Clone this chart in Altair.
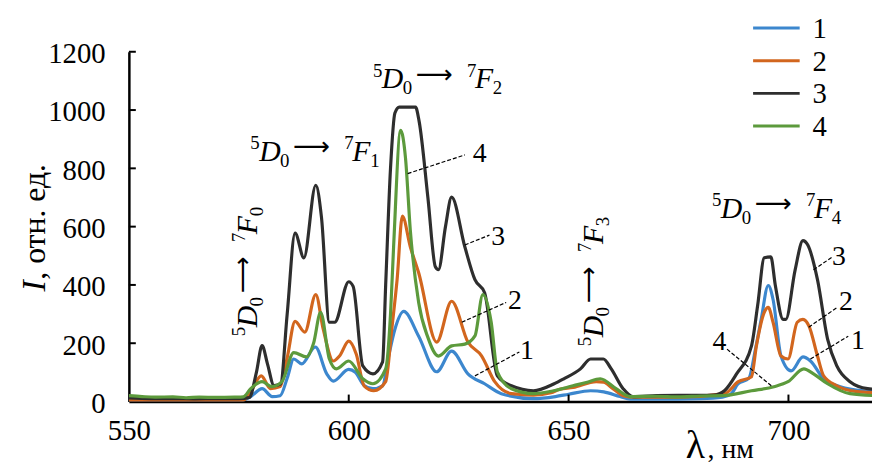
import altair as alt
import pandas as pd

# ---- data ----
wl1 = [550, 560, 570, 576, 577.7, 580.3, 582.6, 584.4, 586, 587.5, 589.3, 592.4, 595, 596.5, 600, 601.5,
       603.5, 605.5, 607.7, 609, 610.5, 612.5, 615.9, 620, 623.4, 627.1, 630.9, 634.7, 642, 647, 650, 655,
       658, 661.7, 664, 670, 680, 685, 687, 688.5, 691, 692.5, 693.8, 695.4, 696.5, 698.3, 700.6, 703.3,
       705, 708, 711.8, 717, 720]
i1 = [5, 5, 5, 5, 17, 44, 17, 20, 80, 146, 129, 187, 95, 70, 110, 100,
      55, 44, 54, 150, 248, 309, 224, 102, 173, 95, 61, 27, 10, 17, 25, 37,
      33, 17, 8, 8, 10, 15, 27, 60, 80, 180, 282, 398, 350, 156, 105, 153,
      139, 78, 51, 37, 35]

wl2 = [550, 560, 570, 576, 577.7, 580.1, 582.2, 584.4, 586, 587.8, 590, 592.5, 594.2, 596.5, 597.9, 600,
       601.7, 603.5, 605.7, 608.4, 609.8, 611, 612.2, 614, 615.9, 620, 623.4, 627.1, 630.2, 633.2, 637,
       642, 646, 648, 651, 656.3, 658, 660, 662.4, 665, 675, 685.5, 688.6, 691.6, 692.7, 694.5, 695.4,
       696.5, 698.3, 699.9, 702, 703.3, 704.7, 706.6, 708, 711, 715.6, 720]
i2 = [3, 3, 3, 4, 34, 88, 44, 51, 150, 275, 238, 367, 248, 139, 156, 207,
      163, 54, 37, 68, 250, 418, 636, 531, 442, 204, 344, 204, 157, 68, 27,
      22, 30, 42, 48, 68, 66, 45, 20, 15, 15, 27, 68, 85, 190, 306, 323,
      272, 156, 146, 272, 282, 258, 156, 88, 54, 34, 30]

wl3 = [550, 555, 560, 565, 570, 575, 577.4, 579, 580.3, 581.5, 583, 584.5, 586, 587.8, 589.8, 592.5,
       593.8, 595.6, 596.8, 600, 601, 603.2, 605.5, 607.7, 608.4, 609.5, 610.5, 611.5, 615.2, 616, 618,
       619.7, 620.4, 622, 623.4, 626.4, 628.7, 630.9, 633.8, 637, 642, 646.6, 648.9, 652.7, 655, 657.9,
       659.7, 662.4, 664.6, 670, 675, 680, 683, 685.5, 688.2, 691.6, 693, 694.5, 696, 697, 698.8, 699.4,
       701.5, 703.3, 704.4, 706.6, 708.9, 711, 714, 718, 720]
i3 = [12, 10, 10, 9, 10, 10, 14, 100, 192, 130, 55, 60, 300, 578, 493, 742,
      632, 272, 272, 411, 395, 122, 95, 136, 400, 800, 990, 1010, 1010, 962, 700,
      462, 452, 600, 701, 531, 418, 373, 88, 54, 37, 60, 78, 112, 146, 146,
      112, 44, 17, 20, 21, 21, 22, 38, 95, 191, 330, 493, 496, 400, 282, 282,
      450, 552, 537, 418, 214, 122, 68, 44, 42]

wl4 = [550, 553, 556, 560, 563, 566, 570, 574, 576, 577.7, 580.3, 582.5, 584.8, 587.5, 590.4, 592,
       593.6, 595.6, 597.2, 600, 603.2, 605.5, 608.4, 609.5, 610.2, 611.8, 612.9, 614, 615.9, 618, 620.4,
       623.4, 626.4, 628.7, 630.5, 632.4, 633.8, 637, 642, 646.6, 651, 654, 657.2, 660.8, 664, 670, 675,
       680, 685, 691.6, 696.7, 699.9, 703.5, 705.7, 708.9, 714, 720]
i4 = [20, 17, 15, 16, 13, 15, 14, 15, 16, 44, 68, 51, 68, 168, 153, 200,
      306, 146, 112, 139, 78, 61, 112, 300, 530, 930, 837, 588, 340, 220, 156,
      191, 197, 225, 367, 272, 102, 44, 27, 37, 54, 65, 78, 44, 17, 18, 16,
      19, 20, 37, 51, 68, 112, 95, 61, 27, 20]

series_names = ["1", "2", "3", "4"]
series_colors = ["#3C87CE", "#D2661E", "#2E2E2E", "#5C9A3C"]

x_ticks = [550, 600, 650, 700]
y_ticks = [0, 200, 400, 600, 800, 1000, 1200]

# transition labels: anchor (wavelength, intensity), final sub index, rotation
tr_wl = [579.2, 577.6, 605.5, 657.9, 682.6]
tr_val = [224, 826, 1074, 190, 629]
tr_sub = ["0", "1", "2", "3", "4"]
tr_angle = [270, 0, 0, 270, 0]

# leader lines with curve numbers
ll_x1 = [613.4, 626.4, 625.7, 628.7, 705.7, 704.6, 705.0, 696.1]
ll_y1 = [782, 537, 272, 88, 452, 255, 146, 54]
ll_x2 = [626.4, 632.0, 635.8, 638.8, 710.0, 711.1, 713.6, 686.0]
ll_y2 = [846, 571, 340, 170, 496, 323, 224, 180]
ll_lab = ["4", "3", "2", "1", "3", "2", "1", "4"]
lab_x = [629.8, 634.0, 637.8, 640.5, 711.5, 713.1, 715.8, 684.3]
lab_y = [850, 564, 343, 172, 496, 340, 207, 204]

SERIF = "Liberation Serif"

rows = []
for name, wl, iv in zip(series_names, [wl1, wl2, wl3, wl4], [i1, i2, i3, i4]):
    for a, b in zip(wl, iv):
        rows.append({"s": name, "wl": a, "val": b})
df = pd.DataFrame(rows)

xscale = alt.Scale(domain=[550, 719], nice=False, zero=False)
yscale = alt.Scale(domain=[0, 1200], nice=False)

xaxis = alt.Axis(values=x_ticks, title=None, ticks=False, tickSize=0, grid=False, format="d",
                 labelFont=SERIF, labelFontSize=29, labelColor="black", labelPadding=15,
                 labelFlush=False, labelOverlap=False, domainColor="black", domainWidth=2.5)
yaxis = alt.Axis(values=y_ticks, title=None, ticks=False, tickSize=0, grid=False, format="d",
                 labelFont=SERIF, labelFontSize=29, labelColor="black", labelPadding=24,
                 labelOffset=2, labelOverlap=False, domainColor="black", domainWidth=2.5)

lines = alt.Chart(df).mark_line(strokeWidth=3.2, interpolate="monotone", clip=True).encode(
    x=alt.X("wl:Q", scale=xscale, axis=xaxis),
    y=alt.Y("val:Q", scale=yscale, axis=yaxis),
    color=alt.Color("s:N", scale=alt.Scale(domain=series_names, range=series_colors), legend=None),
)

layers = [lines]

# inward tick marks
ytk = alt.Chart(pd.DataFrame({"val": y_ticks[1:]})).mark_rule(color="black", strokeWidth=2).encode(
    y="val:Q", x=alt.value(0), x2=alt.value(7))
xtk = alt.Chart(pd.DataFrame({"wl": x_ticks[1:]})).mark_rule(color="black", strokeWidth=2).encode(
    x="wl:Q", y=alt.value(353), y2=alt.value(346))
layers += [ytk, xtk]

# leader lines
ldf = pd.DataFrame({"wl": ll_x1, "val": ll_y1, "wl2": ll_x2, "val2": ll_y2})
layers.append(alt.Chart(ldf).mark_rule(color="black", strokeWidth=1.2, strokeDash=[4, 2]).encode(
    x="wl:Q", y="val:Q", x2="wl2:Q", y2="val2:Q"))
tdf = pd.DataFrame({"wl": lab_x, "val": lab_y, "t": ll_lab})
layers.append(alt.Chart(tdf).mark_text(font=SERIF, fontSize=28, color="black", align="center",
                                       baseline="middle").encode(x="wl:Q", y="val:Q", text="t:N"))

# transition labels built from pieces
def piece(wl, val, text, size, dx, dy, angle, italic=False, font=SERIF):
    kw = dict(text=text, font=font, fontSize=size, color="black", align="left",
              baseline="alphabetic", dx=dx, dy=dy, angle=angle)
    if italic:
        kw["fontStyle"] = "italic"
    return alt.Chart(pd.DataFrame({"wl": [wl], "val": [val]})).mark_text(**kw).encode(
        x="wl:Q", y="val:Q")

for wl, val, sub, ang in zip(tr_wl, tr_val, tr_sub, tr_angle):
    layers += [
        piece(wl, val, "5", 19, 0, -12, ang),
        piece(wl, val, "D", 30, 9, 0, ang, italic=True),
        piece(wl, val, "0", 19, 30, 6, ang),
        piece(wl, val, "\u27f6", 26, 43, -6, ang, font="DejaVu Sans"),
        piece(wl, val, "7", 19, 95, -12, ang),
        piece(wl, val, "F", 30, 103, 0, ang, italic=True),
        piece(wl, val, sub, 19, 121, 6, ang),
    ]

# axis titles (pixel positions relative to plot area)
layers.append(alt.Chart(pd.DataFrame({"a": [0]})).mark_text(
    text="I", font=SERIF, fontSize=34, fontStyle="italic", color="black", align="left",
    baseline="alphabetic", angle=270).encode(x=alt.value(-85), y=alt.value(242)))
layers.append(alt.Chart(pd.DataFrame({"a": [0]})).mark_text(
    text=", отн. ед.", font=SERIF, fontSize=32, color="black", align="left",
    baseline="alphabetic", angle=270, dx=12).encode(x=alt.value(-85), y=alt.value(242)))
layers.append(alt.Chart(pd.DataFrame({"a": [0]})).mark_text(
    text="λ", font=SERIF, fontSize=40, color="black", align="left",
    baseline="alphabetic").encode(x=alt.value(562), y=alt.value(410)))
layers.append(alt.Chart(pd.DataFrame({"a": [0]})).mark_text(
    text=", нм", font=SERIF, fontSize=28, color="black", align="left",
    baseline="alphabetic").encode(x=alt.value(584), y=alt.value(410)))

# legend (manual)
for i, (name, col) in enumerate(zip(series_names, series_colors)):
    ypix = -24 + i * 33
    layers.append(alt.Chart(pd.DataFrame({"a": [0]})).mark_rule(color=col, strokeWidth=3).encode(
        x=alt.value(630), x2=alt.value(677), y=alt.value(ypix)))
    layers.append(alt.Chart(pd.DataFrame({"a": [0]})).mark_text(
        text=name, font=SERIF, fontSize=29, color="black", align="left", baseline="middle",
        dy=1).encode(x=alt.value(690), y=alt.value(ypix)))

chart = alt.layer(*layers).properties(
    width=750, height=353,
    autosize=alt.AutoSizeParams(type="none"),
    padding={"left": 122, "top": 42, "right": 0, "bottom": 72},
).configure_view(stroke=None)

chart.save("out.html", embed_options={"renderer": "svg", "actions": False})
